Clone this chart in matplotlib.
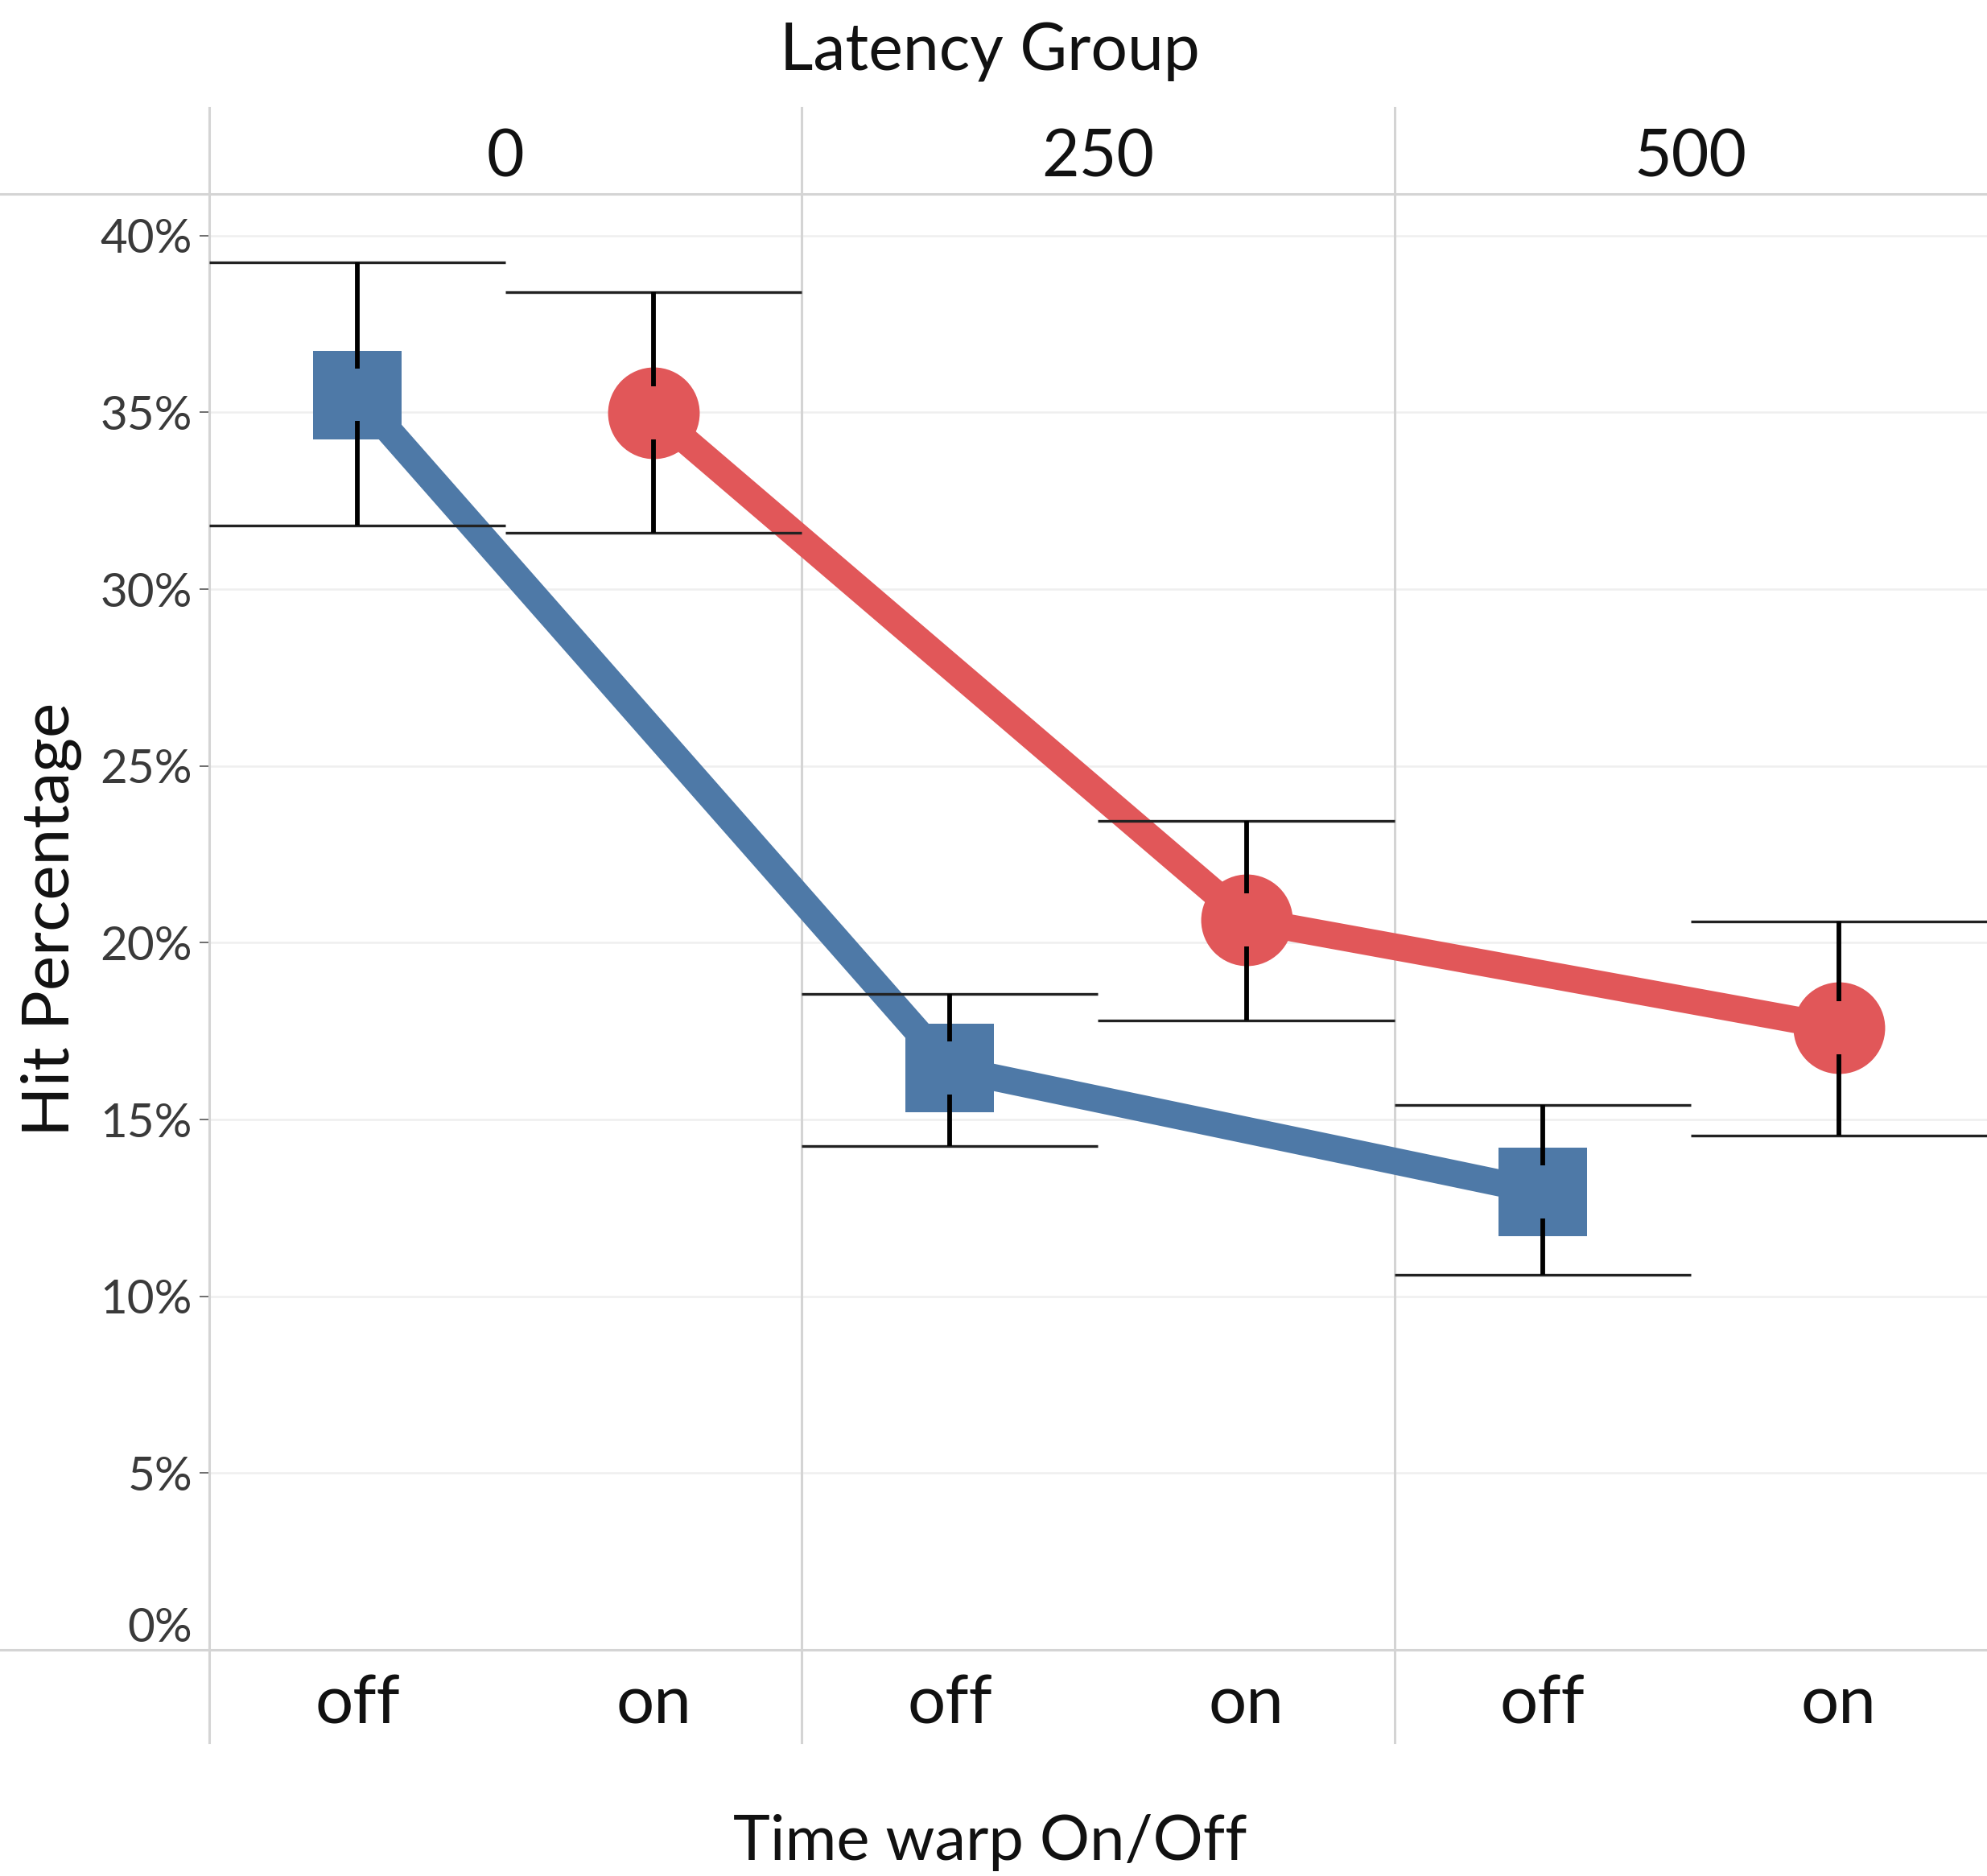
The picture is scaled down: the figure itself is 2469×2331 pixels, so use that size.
import numpy as np
import matplotlib
matplotlib.use("Agg")
import matplotlib.pyplot as plt
import matplotlib.transforms as mtransforms
from matplotlib.lines import Line2D

# data (hit percentage, %)
latency_groups = ["0", "250", "500"]
warp_states = ["off", "on"]

off_mean = [35.5, 16.45, 12.95]
off_low = [31.8, 14.25, 10.6]
off_high = [39.25, 18.55, 15.4]

on_mean = [34.98, 20.65, 17.6]
on_low = [31.6, 17.8, 14.55]
on_high = [38.4, 23.45, 20.6]

y_ticks = [0, 5, 10, 15, 20, 25, 30, 35, 40]

BLUE = "#4E79A7"
RED = "#E15759"
GRID = "#EFEFEF"
DIVIDER = "#D4D4D4"

W, H = 2469, 2331


def fx(px):
    return px / W


def fy(py):
    return 1 - py / H


def draw_series(ax, xs, mean, low, high, color, marker, msize):
    '''
        Error bars spanning half a panel, a thick connecting line and markers.
    '''
    gap = 0.75  # hole in the whisker around the mark
    ax.plot(xs, mean, marker, color=color, markersize=msize, markeredgewidth=0,
            zorder=2)
    ax.plot(xs, mean, '-', color=color, lw=24, solid_capstyle='round',
            solid_joinstyle='round', zorder=3)
    for x, m, lo, hi in zip(xs, mean, low, high):
        ax.hlines([lo, hi], x - 0.5, x + 0.5, color='#222222', lw=2.4, zorder=4)
        ax.vlines(x, m + gap, hi, color='black', lw=4.2, zorder=4)
        ax.vlines(x, lo, m - gap, color='black', lw=4.2, zorder=4)


fig = plt.figure(figsize=(W / 100, H / 100), dpi=100)
plt.rcParams['font.family'] = ['Lato', 'DejaVu Sans']

ax = fig.add_axes([fx(260), fy(2050), 1 - fx(260), fy(241) - fy(2050)])
ax.set_xlim(-0.5, 5.5)
ax.set_ylim(0, 41.18)

x_off = np.arange(len(latency_groups)) * 2
x_on = x_off + 1

draw_series(ax, x_off, off_mean, off_low, off_high, BLUE, 's', 79)
draw_series(ax, x_on, on_mean, on_low, on_high, RED, 'o', 82)

# axes styling
for s in ax.spines.values():
    s.set_visible(False)
ax.set_yticks(y_ticks)
ax.set_yticklabels([f"{v}%" for v in y_ticks], fontsize=42, color='#3a3a3a')
ax.tick_params(axis='y', length=9, width=1.2, color='#555555', pad=6)
ax.yaxis.grid(True, color=GRID, lw=1.8)
ax.set_axisbelow(True)
zero = ax.yaxis.get_major_ticks()[0]
zero.tick1line.set_visible(False)
zero.label1.set_verticalalignment('bottom')

ax.set_xticks(np.arange(6))
ax.set_xticklabels(warp_states * 3, fontsize=60, color='#111111')
ax.tick_params(axis='x', length=0, pad=22)

# frame lines: header / baseline, and panel dividers
for py in (241, 2050):
    fig.add_artist(Line2D([0, 1], [fy(py), fy(py)], color=DIVIDER, lw=2.2))
trans = mtransforms.blended_transform_factory(ax.transData, fig.transFigure)
for xb in (-0.5, 1.5, 3.5):
    ax.add_line(Line2D([xb, xb], [fy(2165), fy(134)], transform=trans,
                       color=DIVIDER, lw=2.2, clip_on=False))

# panel headers
for i, g in enumerate(latency_groups):
    ax.text(2 * i + 0.5, fy(220), g, transform=trans, ha='center',
            va='baseline', fontsize=58, color='#111111')

fig.text(fx(1230), fy(87), "Latency Group", ha='center', va='baseline',
         fontsize=58, color='#111111')
fig.text(fx(1230), fy(2311), "Time warp On/Off", ha='center', va='baseline',
         fontsize=56, color='#111111')
fig.text(fx(64), fy(1142), "Hit Percentage", ha='center', va='center',
         rotation=90, fontsize=59, color='#111111')

fig.savefig("out.png", dpi=100)
